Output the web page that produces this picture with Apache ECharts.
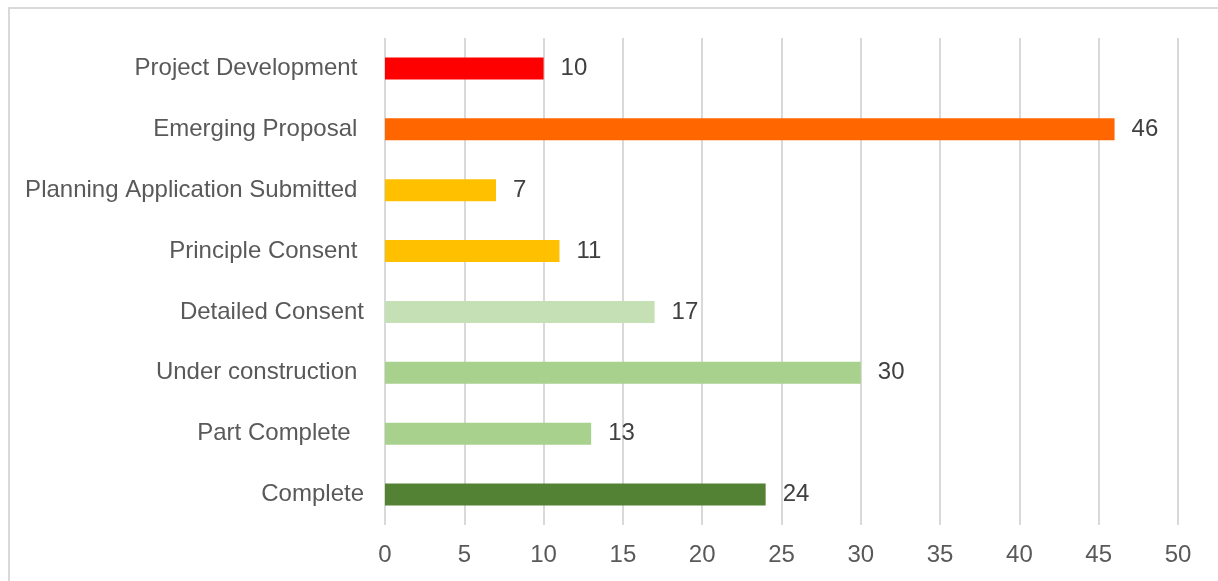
<!DOCTYPE html>
<html>
<head>
<meta charset="utf-8">
<script src="https://cdn.jsdelivr.net/npm/echarts@6/dist/echarts.min.js"></script>
<style>
  html, body { margin: 0; padding: 0; background: #fff; }
  #frame { position: absolute; left: 8px; top: 7px; width: 1300px; height: 700px; border: 2px solid #d9d9d9; box-sizing: border-box; }
  #chart { position: absolute; left: 0; top: 0; width: 1218px; height: 581px; }
</style>
</head>
<body>
<div id="frame"></div>
<div id="chart"></div>
<script>
// Project stages (top to bottom) and counts per stage
const stages = [
  'Project Development ',
  'Emerging Proposal ',
  'Planning Application Submitted ',
  'Principle Consent ',
  'Detailed Consent',
  'Under construction ',
  'Part Complete  ',
  'Complete'
];
const counts = [10, 46, 7, 11, 17, 30, 13, 24];
const stageColors = ['#FF0000', '#FF6600', '#FFC000', '#FFC000', '#C5E0B4', '#A9D18E', '#A9D18E', '#548235'];
const xTicks = { min: 0, max: 50, interval: 5 };

const chart = echarts.init(document.getElementById('chart'), null, { renderer: 'canvas' });
const font = 'Liberation Sans, Arial, sans-serif';

chart.setOption({
  animation: false,
  grid: { left: 385, right: 40, top: 38, bottom: 56, containLabel: false },
  xAxis: {
    type: 'value',
    min: xTicks.min, max: xTicks.max, interval: xTicks.interval,
    axisLine: { show: false },
    axisTick: { show: false },
    splitLine: { show: true, lineStyle: { color: '#d9d9d9', width: 2 } },
    axisLabel: { color: '#595959', fontSize: 24, fontFamily: font, margin: 18 }
  },
  yAxis: {
    type: 'category',
    data: stages,
    inverse: true,
    axisLine: { show: false },
    axisTick: { show: false },
    axisLabel: { color: '#595959', fontSize: 24, fontFamily: font, margin: 21 }
  },
  series: [{
    type: 'bar',
    barWidth: 22,
    data: counts.map((v, i) => ({ value: v, itemStyle: { color: stageColors[i] } })),
    label: {
      show: true,
      position: 'right',
      distance: 17,
      color: '#404040',
      fontSize: 24,
      fontFamily: font
    }
  }]
});
</script>
</body>
</html>
